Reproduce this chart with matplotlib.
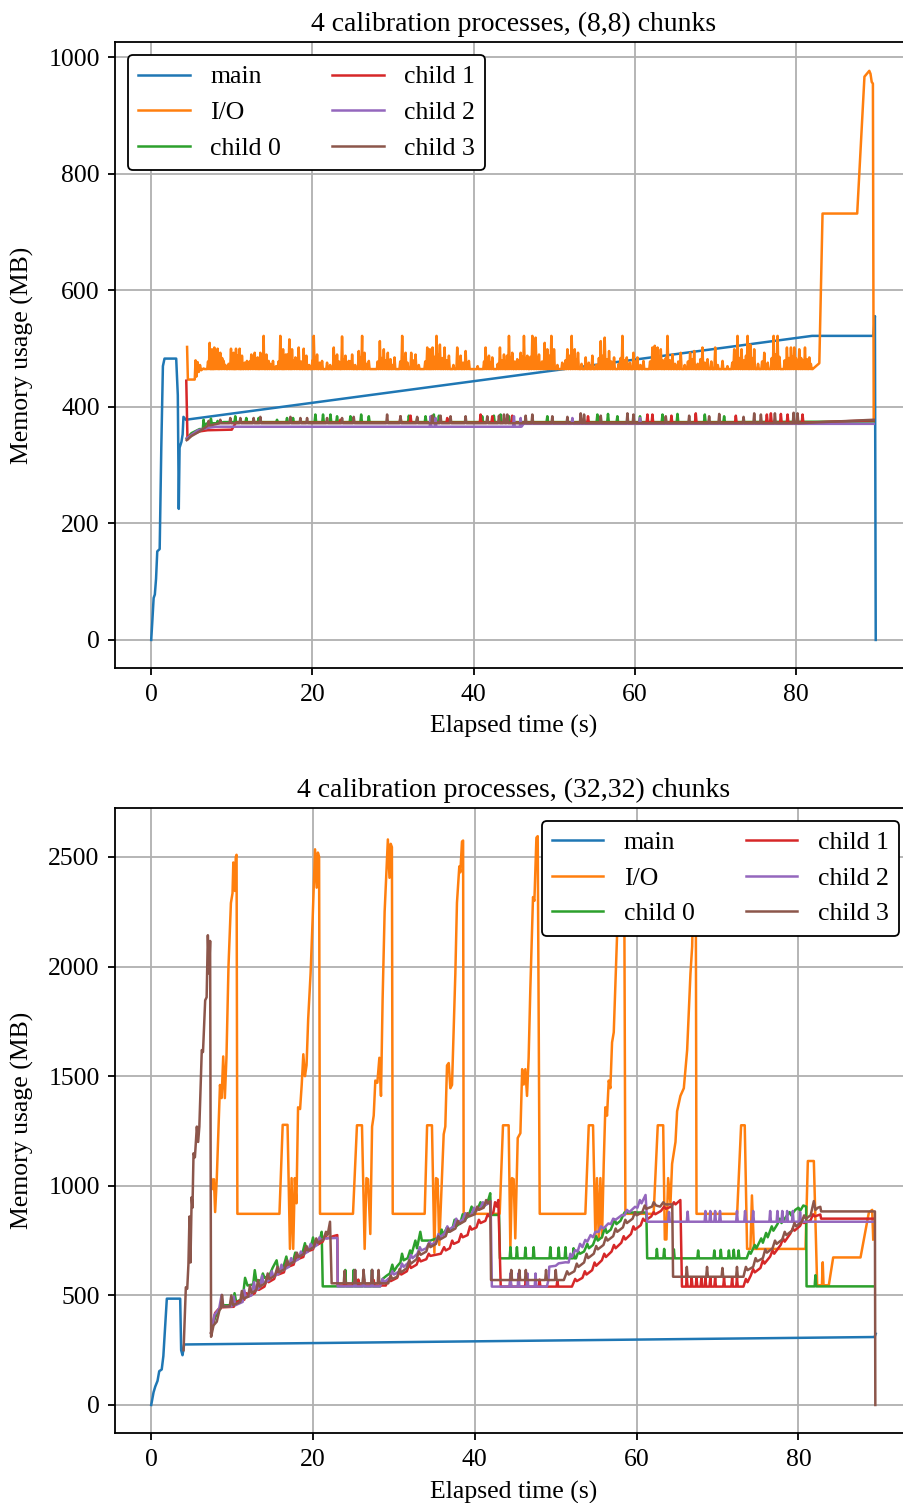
import numpy as np
import matplotlib
matplotlib.use("Agg")
import matplotlib.pyplot as plt

LABELS = ["main", "I/O", "child 0", "child 1", "child 2", "child 3"]

# ---------------- (8,8) chunks: (time s, memory MB) ----------------
main_8 = [(0.0, 0), (0.15, 35), (0.3, 72), (0.45, 78), (0.6, 105), (0.75, 152),
          (1.05, 156), (1.25, 330), (1.45, 470), (1.65, 483), (3.1, 483), (3.3, 420),
          (3.42, 225), (3.52, 330), (3.75, 340), (3.9, 353), (4.0, 383), (4.3, 378),
          (82.0, 522), (89.6, 522), (89.8, 556), (89.9, 0)]

io_8 = [(4.45, 503), (4.55, 447), (5.4, 447), (5.5, 480), (5.6, 452), (5.75, 477),
        (5.9, 460), (6.05, 472), (6.2, 463), (6.5, 466), (6.6, 465), (82.07, 465),
        (82.9, 475), (83.3, 732), (87.6, 732), (88.5, 967), (89.1, 977), (89.25, 972),
        (89.4, 958), (89.55, 955), (89.65, 376)]
io_8_spikes = [
    (7.25, 510), (7.54, 499), (7.83, 502), (8.24, 500), (8.57, 493), (8.99, 479),
    (9.9, 500), (10.23, 493), (10.52, 500), (10.97, 500), (11.26, 488), (11.88, 479),
    (12.42, 490), (12.84, 493), (13.21, 485), (13.54, 493), (13.95, 522), (14.29, 490),
    (14.57, 479), (15.11, 479), (16.02, 522), (16.36, 499), (16.69, 490), (17.14, 516),
    (17.47, 499), (17.89, 485), (18.3, 502), (18.92, 500), (19.25, 488), (20.17, 522),
    (20.58, 490), (21.2, 479), (21.82, 476), (22.65, 502), (23.06, 490), (23.68, 521),
    (24.1, 488), (24.51, 479), (24.93, 490), (25.75, 496), (26.17, 522), (26.46, 493),
    (27.0, 479), (28.37, 513), (28.86, 499), (29.36, 493), (29.69, 482), (30.19, 485),
    (31.14, 522), (31.56, 493), (32.26, 493), (32.8, 490), (34.25, 502), (34.58, 499),
    (34.91, 502), (35.4, 522), (35.82, 507), (36.4, 502), (36.94, 488), (37.97, 502),
    (38.39, 488), (39.01, 496), (39.42, 479), (41.49, 502), (41.91, 488), (42.32, 485),
    (43.27, 502), (43.77, 490), (44.39, 522), (44.8, 493), (45.42, 482), (45.84, 493),
    (46.25, 522), (46.67, 488), (47.29, 522), (47.7, 519), (48.12, 490), (48.82, 510),
    (49.15, 499), (49.65, 522), (49.98, 499), (51.64, 499), (52.17, 522), (52.55, 499),
    (52.96, 493), (53.91, 485), (54.74, 488), (55.78, 513), (56.27, 519), (56.81, 496),
    (57.43, 485), (58.47, 522), (59.01, 485), (59.84, 493), (60.33, 485), (61.08, 479),
    (62.19, 502), (62.48, 505), (62.82, 502), (63.23, 499), (64.06, 522), (64.68, 490),
    (65.71, 493), (66.87, 493), (67.37, 496), (68.4, 502), (69.03, 482), (69.98, 502),
    (70.89, 479), (72.34, 499), (72.75, 522), (73.25, 499), (74.0, 522), (74.33, 507),
    (74.82, 499), (76.07, 493), (77.23, 522), (77.72, 522), (78.88, 502), (79.38, 502),
    (79.79, 502), (80.41, 499), (81.12, 502), (81.66, 485)]
# smaller bumps that thicken the I/O band between the tall spikes
io_8_ripples = [
    (7.05, 478), (7.4, 485), (7.7, 488), (8.05, 482), (8.4, 486), (8.8, 484), (9.2, 472),
    (9.6, 474), (10.07, 485), (10.38, 482), (10.75, 488), (11.1, 484), (11.6, 476),
    (12.2, 478), (12.63, 482), (13.03, 480), (13.38, 476), (13.75, 484), (14.12, 482),
    (14.8, 474), (15.5, 470), (15.8, 478), (16.2, 488), (16.52, 484), (16.9, 490),
    (17.3, 486), (17.68, 480), (18.1, 484), (18.6, 478), (19.08, 484), (19.6, 472),
    (20.0, 480), (20.38, 484), (20.9, 476), (22.2, 472), (22.85, 486), (23.3, 478),
    (23.9, 482), (24.3, 476), (24.72, 478), (25.3, 472), (25.95, 484), (26.32, 486),
    (26.7, 474), (28.1, 478), (28.6, 484), (29.1, 480), (29.52, 476), (30.0, 472),
    (30.9, 478), (31.35, 484), (31.8, 476), (32.5, 480), (33.2, 472), (34.0, 478),
    (34.42, 488), (34.75, 484), (35.15, 486), (35.6, 490), (36.1, 484), (36.65, 480),
    (37.5, 472), (38.2, 478), (38.7, 476), (39.22, 474), (40.5, 470), (41.3, 478),
    (41.7, 484), (42.1, 476), (43.0, 474), (43.52, 480), (44.15, 488), (44.6, 484),
    (45.12, 478), (45.63, 480), (46.05, 486), (46.46, 484), (47.05, 486), (47.5, 490),
    (47.91, 484), (48.5, 478), (48.99, 486), (49.4, 488), (49.82, 486), (50.4, 472),
    (51.0, 476), (51.4, 480), (51.9, 488), (52.36, 484), (52.76, 482), (53.4, 474),
    (54.3, 476), (55.2, 472), (55.55, 484), (56.05, 488), (56.55, 482), (57.1, 478),
    (58.0, 474), (58.25, 484), (58.75, 480), (59.4, 476), (60.1, 478), (60.7, 472),
    (61.9, 478), (62.65, 484), (63.03, 486), (63.5, 480), (63.85, 484), (64.37, 480),
    (65.0, 474), (65.4, 478), (66.2, 472), (66.6, 478), (67.12, 482), (67.8, 474),
    (68.15, 482), (68.7, 476), (69.5, 478), (70.3, 472), (71.5, 470), (72.1, 476),
    (72.55, 486), (73.0, 484), (73.55, 480), (73.8, 488), (74.17, 490), (74.58, 484),
    (75.3, 474), (75.8, 478), (76.5, 476), (77.0, 484), (77.48, 490), (77.95, 486),
    (78.6, 480), (79.13, 484), (79.59, 486), (80.0, 484), (80.2, 480), (80.65, 484),
    (80.9, 480), (81.37, 482), (81.85, 474)]

child0_8 = [(4.4, 346), (5.0, 355), (6.0, 362), (6.6, 370), (7.0, 372), (9.0, 374), (89.65, 375)]
child0_8_spikes = [
    (6.5, 378), (7.41, 380), (8.24, 376), (10.43, 384), (11.8, 381), (13.33, 381),
    (15.61, 378), (16.85, 381), (17.6, 381), (20.37, 387), (21.32, 387), (22.24, 387),
    (23.06, 384), (24.72, 384), (26.05, 387), (27.0, 384), (31.97, 385), (33.0, 381),
    (34.04, 384), (35.07, 387), (35.7, 385), (41.07, 384), (42.52, 385), (43.35, 387),
    (44.39, 384), (49.15, 384), (55.36, 387), (56.68, 388), (57.84, 384), (60.65, 384),
    (63.44, 387), (65.3, 388), (68.69, 387), (71.09, 384)]

child1_8 = [(4.35, 445), (4.5, 344), (5.0, 352), (6.0, 358), (7.0, 360), (10.0, 361),
            (10.5, 373), (89.65, 377)]
child1_8_spikes = [
    (23.47, 378), (30.93, 384), (32.18, 385), (36.73, 381), (40.87, 387), (42.32, 384),
    (44.8, 385), (54.2, 384), (61.57, 387), (62.19, 387), (64.55, 385), (67.57, 389),
    (72.54, 385), (76.39, 387), (76.89, 389), (78.13, 388), (78.96, 387), (80.82, 387)]

child2_8 = [(4.4, 346), (5.0, 352), (5.8, 360), (7.0, 364), (8.0, 366), (46.0, 367),
            (46.2, 371), (89.65, 371)]
child2_8_spikes = [(34.66, 384), (35.28, 381), (45.01, 384), (45.84, 381), (52.26, 381),
                   (60.65, 381)]

child3_8 = [(4.4, 343), (5.0, 350), (6.0, 358), (7.0, 368), (8.5, 372), (89.65, 378)]
child3_8_spikes = [
    (7.12, 376), (8.57, 378), (9.81, 381), (11.06, 381), (12.71, 381), (13.54, 383),
    (17.27, 383), (18.51, 381), (19.34, 381), (21.82, 381), (23.68, 381), (25.13, 383),
    (29.27, 387), (30.93, 384), (33.0, 383), (34.87, 385), (35.9, 385), (37.14, 384),
    (39.01, 384), (41.7, 384), (43.15, 385), (43.77, 387), (44.18, 387), (46.46, 385),
    (47.29, 387), (49.77, 384), (51.64, 383), (53.29, 389), (53.71, 387), (55.78, 385),
    (59.09, 389), (59.84, 387), (63.85, 384), (66.75, 385), (69.23, 384), (70.48, 388),
    (73.5, 383), (74.82, 389), (75.65, 387), (77.39, 389), (79.71, 390), (80.2, 389)]

# ---------------- (32,32) chunks ----------------
main_32 = [(0.0, 0), (0.29, 58), (0.5, 84), (0.78, 110), (0.99, 154), (1.3, 162),
           (1.5, 223), (1.93, 485), (3.58, 485), (3.7, 250), (3.87, 227), (4.07, 276),
           (89.4, 310), (89.55, 325)]

io_32 = [
    (7.45, 1030), (7.6, 985), (7.75, 1030), (7.9, 880), (8.1, 1030), (8.3, 1245),
    (8.5, 1460), (8.7, 1400), (8.9, 1590), (9.1, 1400), (9.3, 1585), (9.55, 2000),
    (9.85, 2290), (10.05, 2335), (10.15, 2475), (10.35, 2345), (10.45, 2500),
    (10.55, 2510), (10.65, 872),
    (15.85, 872), (16.25, 1278), (16.85, 1278), (17.15, 712), (17.35, 1035),
    (17.55, 712), (17.75, 1035), (17.95, 920), (18.15, 1358), (18.4, 1350),
    (18.6, 1460), (18.8, 1600), (19.0, 1500), (19.2, 1550), (19.4, 1760),
    (19.7, 1970), (19.95, 2215), (20.25, 2535), (20.45, 2360), (20.6, 2520),
    (20.75, 2500), (20.86, 872),
    (24.94, 872), (25.43, 1276), (26.05, 1276), (26.38, 712), (26.6, 1035),
    (26.8, 1030), (27.08, 780), (27.3, 1270), (27.5, 1320), (27.7, 1480),
    (27.95, 1470), (28.2, 1584), (28.4, 1410), (28.6, 1850), (28.85, 2250),
    (29.05, 2420), (29.25, 2580), (29.45, 2405), (29.6, 2560), (29.75, 2545), (29.85, 872),
    (33.8, 872), (34.1, 1276), (34.7, 1276), (35.0, 694), (35.2, 1035), (35.4, 1030),
    (35.6, 730), (36.15, 1235), (36.35, 1270), (36.56, 1549), (36.77, 1560),
    (36.97, 1445), (37.18, 1460), (37.59, 1968), (37.79, 2291), (38.08, 2457),
    (38.21, 2430), (38.41, 2570), (38.55, 2575), (38.62, 872),
    (43.07, 872), (43.48, 1276), (44.18, 1276), (44.39, 712), (44.59, 1035),
    (44.8, 1030), (45.0, 760), (45.3, 1218), (45.63, 1240), (45.85, 1532),
    (46.04, 1462), (46.24, 1532), (46.45, 1410), (46.65, 1584), (46.86, 1900),
    (47.19, 2317), (47.36, 2300), (47.61, 2588), (47.77, 2595), (48.02, 872),
    (53.66, 872), (54.08, 1276), (54.61, 1276), (54.9, 764), (55.1, 1035),
    (55.31, 764), (55.52, 1035), (55.72, 764), (55.93, 1100), (56.13, 1358),
    (56.34, 1320), (56.55, 1480), (56.75, 1445), (56.96, 1654), (57.17, 1700),
    (57.58, 2143), (57.79, 2405), (58.2, 2580), (58.45, 2560), (58.61, 872),
    (62.1, 872), (62.61, 1276), (63.28, 1276), (63.48, 755), (63.68, 755),
    (63.89, 1035), (64.18, 921), (64.38, 1100), (64.8, 1200), (65.0, 1340),
    (65.41, 1410), (65.83, 1445), (66.24, 1619), (66.65, 1968), (66.86, 2091),
    (67.1, 2500), (67.3, 2480), (67.4, 872),
    (72.42, 872), (72.91, 1276), (73.36, 1276), (73.65, 712), (74.06, 712),
    (74.25, 956), (74.5, 712), (80.87, 712), (81.16, 1113), (81.9, 1113),
    (82.31, 546), (82.9, 546), (83.0, 651), (83.1, 546), (83.75, 546),
    (84.29, 673), (87.67, 673), (88.7, 878), (89.11, 890), (89.24, 755)]

child0_32 = [
    (7.4, 330), (7.9, 400), (8.6, 445), (8.9, 455), (10.1, 455), (10.3, 510), (10.5, 470),
    (11.3, 485), (11.6, 580), (11.9, 545), (12.6, 550), (12.8, 615), (13.0, 565),
    (13.6, 570), (13.8, 600), (14.0, 580), (14.6, 590), (15.0, 625), (15.5, 660),
    (15.7, 615), (16.3, 625), (16.7, 677), (16.9, 640), (17.5, 650), (17.8, 695),
    (18.0, 665), (18.6, 680), (19.0, 738), (19.2, 700), (19.7, 715), (20.0, 764),
    (20.2, 730), (20.8, 745), (21.07, 790), (21.2, 541),
    (28.3, 541), (28.6, 575), (29.1, 590), (29.5, 600), (29.8, 640), (30.0, 610),
    (30.4, 633), (30.8, 650), (31.0, 690), (31.2, 660), (31.7, 670), (32.0, 705),
    (32.2, 690), (32.65, 750), (32.85, 715), (33.26, 790), (33.45, 750), (34.5, 750),
    (35.7, 765), (35.9, 800), (36.1, 775), (36.56, 810), (36.75, 790), (37.2, 800),
    (37.5, 845), (37.7, 815), (38.2, 830), (38.5, 870), (38.7, 845), (39.2, 860),
    (39.6, 905), (39.8, 880), (40.3, 890), (40.7, 925), (40.9, 900), (41.4, 915),
    (41.7, 940), (41.9, 966), (42.0, 867), (43.0, 867), (43.1, 669),
    (52.5, 669), (52.8, 700), (53.0, 690), (53.5, 700), (53.9, 735), (54.1, 715),
    (54.6, 730), (55.0, 770), (55.2, 750), (55.7, 765), (56.1, 810), (56.3, 785),
    (56.8, 800), (57.3, 845), (57.5, 825), (58.0, 840), (58.5, 878), (61.2, 878),
    (61.3, 669),
    (73.6, 669), (73.9, 700), (74.1, 690), (74.6, 730), (74.8, 715), (75.4, 760),
    (75.6, 740), (76.0, 785), (76.2, 765), (76.7, 815), (76.9, 795), (77.4, 825),
    (77.7, 850), (77.9, 830), (78.5, 860), (78.9, 880), (79.1, 865), (79.6, 890),
    (80.0, 900), (80.2, 885), (80.6, 910), (80.95, 905), (81.0, 541), (89.35, 541)]
child0_32_spikes = [
    (23.99, 616), (25.02, 616), (26.25, 616), (27.28, 616), (44.4, 720), (45.2, 720),
    (46.25, 718), (47.27, 720), (49.33, 720), (50.36, 718), (51.2, 720), (52.2, 715),
    (62.5, 712), (63.4, 712), (64.6, 710), (67.6, 705), (69.6, 705), (70.4, 708),
    (71.4, 705), (72.0, 708), (72.6, 705), (82.1, 592)]

child1_32 = [
    (7.4, 330), (7.9, 420), (8.5, 445), (10.2, 448), (10.5, 470), (11.5, 480), (11.8, 510),
    (12.0, 495), (12.8, 510), (13.1, 540), (13.3, 525), (14.0, 540), (14.3, 575),
    (14.5, 560), (15.2, 575), (15.5, 610), (15.7, 595), (16.4, 605), (16.7, 645),
    (16.9, 630), (17.6, 640), (17.9, 680), (18.1, 665), (18.8, 675), (19.1, 715),
    (19.3, 700), (20.0, 710), (20.3, 745), (20.5, 730), (21.2, 745), (21.5, 775),
    (21.7, 760), (22.5, 770), (23.0, 775), (23.05, 545),
    (29.0, 545), (29.3, 575), (29.6, 565), (30.4, 580), (30.7, 610), (30.9, 595),
    (31.6, 610), (31.9, 645), (32.1, 625), (32.8, 640), (33.1, 670), (33.3, 655),
    (34.0, 665), (34.3, 690), (34.5, 680), (35.8, 690), (36.2, 720), (36.4, 705),
    (36.9, 715), (37.2, 750), (37.4, 735), (38.0, 745), (38.3, 780), (38.5, 765),
    (39.1, 775), (39.4, 815), (39.6, 800), (40.2, 810), (40.5, 845), (40.7, 830),
    (41.3, 840), (41.6, 870), (41.8, 860), (42.3, 880), (42.5, 925), (42.7, 905),
    (42.9, 935), (43.2, 540),
    (52.0, 540), (52.4, 575), (52.6, 565), (53.3, 580), (53.6, 610), (53.8, 595),
    (54.5, 615), (54.8, 650), (55.0, 635), (55.7, 660), (56.0, 690), (56.2, 675),
    (56.9, 700), (57.2, 730), (57.4, 715), (58.1, 740), (58.4, 770), (58.6, 755),
    (59.3, 780), (59.6, 815), (59.8, 800), (60.5, 820), (60.8, 850), (61.0, 840),
    (61.8, 860), (62.1, 880), (62.3, 870), (63.0, 885), (63.4, 905), (63.6, 895),
    (64.3, 905), (64.6, 925), (64.8, 915), (65.4, 935), (65.6, 540),
    (73.2, 540), (73.5, 575), (73.7, 560), (74.1, 590), (74.4, 620), (74.6, 605),
    (75.3, 625), (75.6, 660), (75.8, 645), (76.5, 677), (76.8, 705), (77.0, 690),
    (77.8, 730), (78.1, 760), (78.3, 745), (79.0, 782), (79.3, 805), (79.5, 795),
    (80.2, 817), (80.5, 840), (80.7, 830), (81.5, 843), (81.8, 870), (82.0, 860),
    (82.7, 869), (82.8, 850), (89.4, 850)]
child1_32_spikes = [
    (23.9, 575), (25.6, 572), (26.3, 575), (27.5, 570), (44.4, 570), (46.3, 570),
    (48.0, 572), (50.2, 570), (66.2, 580), (66.8, 580), (67.4, 580), (68.0, 580),
    (68.5, 580), (69.1, 580), (69.7, 580), (70.8, 580), (71.8, 580), (72.4, 580)]

child2_32 = [
    (7.4, 330), (7.8, 410), (8.4, 440), (8.7, 502), (8.9, 448), (10.0, 450), (10.2, 495),
    (10.4, 455), (11.3, 470), (11.5, 525), (11.7, 490), (12.4, 500), (12.7, 560),
    (12.9, 520), (13.5, 540), (13.7, 590), (13.9, 555), (14.6, 570), (14.9, 610),
    (15.1, 585), (15.8, 600), (16.1, 640), (16.3, 615), (17.0, 630), (17.3, 670),
    (17.5, 650), (18.2, 665), (18.5, 700), (18.7, 685), (19.4, 700), (19.7, 735),
    (19.9, 715), (20.5, 730), (20.8, 765), (21.0, 750), (21.5, 760), (23.0, 762),
    (23.05, 541),
    (28.3, 541), (28.6, 575), (28.8, 560), (29.5, 580), (29.8, 610), (30.0, 595),
    (30.7, 610), (31.0, 645), (31.2, 630), (31.8, 650), (32.1, 685), (32.3, 670),
    (32.9, 690), (33.2, 720), (33.4, 705), (34.0, 715), (34.4, 745), (34.6, 730),
    (35.2, 745), (35.5, 780), (35.7, 765), (36.3, 785), (36.6, 815), (36.8, 800),
    (37.4, 815), (37.7, 850), (37.9, 835), (38.5, 845), (38.8, 875), (39.0, 860),
    (39.6, 870), (39.9, 900), (40.1, 885), (40.7, 900), (41.0, 925), (41.2, 910),
    (41.7, 920), (41.95, 930), (42.1, 540),
    (48.9, 540), (49.1, 570), (49.2, 631), (50.0, 635), (50.35, 646), (51.2, 651),
    (51.6, 650), (51.8, 690), (52.0, 675), (52.4, 707), (52.7, 700), (53.0, 735),
    (53.3, 720), (53.65, 753), (53.9, 745), (54.3, 775), (54.6, 765), (54.9, 790),
    (55.3, 790), (55.6, 815), (55.9, 805), (56.5, 828), (56.8, 825), (57.1, 850),
    (57.4, 845), (58.2, 867), (58.5, 865), (58.8, 890), (59.1, 880), (59.8, 904),
    (60.1, 900), (60.4, 935), (60.6, 920), (61.1, 958), (61.3, 836), (89.4, 836)]
child2_32_spikes = [
    (25.2, 616), (26.25, 616), (27.3, 616), (44.4, 600), (45.4, 600), (46.5, 600),
    (47.5, 600), (64.0, 880), (66.3, 882), (68.5, 885), (69.1, 885), (69.7, 885),
    (70.3, 885), (72.4, 885), (73.4, 885), (74.4, 885), (76.5, 885), (77.4, 885),
    (78.0, 885), (78.6, 885), (79.3, 885), (80.2, 880)]

child3_32 = [
    (4.0, 250), (4.28, 537), (4.45, 530), (4.6, 642), (4.73, 860), (4.85, 650),
    (5.0, 948), (5.1, 900), (5.23, 1148), (5.4, 1130), (5.64, 1270), (5.8, 1200),
    (5.95, 1270), (6.25, 1619), (6.4, 1610), (6.67, 1846), (6.85, 1860), (7.0, 2143),
    (7.16, 1968), (7.28, 2117), (7.4, 311), (7.7, 363), (8.1, 380), (8.44, 433),
    (8.6, 440), (8.75, 502), (8.9, 448), (9.7, 450), (9.9, 500), (10.1, 455),
    (11.0, 470), (11.2, 520), (11.4, 485), (12.0, 495), (12.2, 545), (12.4, 510),
    (13.0, 525), (13.2, 570), (13.4, 540), (14.1, 555), (14.4, 600), (14.6, 575),
    (15.3, 590), (15.6, 630), (15.8, 605), (16.5, 620), (16.8, 660), (17.0, 640),
    (17.7, 655), (18.0, 695), (18.2, 675), (18.9, 690), (19.2, 725), (19.4, 705),
    (20.1, 720), (20.4, 760), (20.6, 740), (21.3, 755), (21.6, 790), (21.8, 775),
    (22.1, 836), (22.3, 555),
    (29.3, 555), (29.6, 590), (29.8, 575), (30.4, 585), (30.7, 620), (30.9, 605),
    (31.6, 625), (31.9, 660), (32.1, 645), (32.8, 665), (33.1, 700), (33.3, 685),
    (34.0, 700), (34.3, 735), (34.5, 720), (35.2, 735), (35.5, 770), (35.7, 755),
    (36.4, 770), (36.7, 805), (36.9, 790), (37.6, 805), (37.9, 840), (38.1, 825),
    (38.8, 840), (39.1, 875), (39.3, 860), (40.0, 870), (40.3, 905), (40.5, 890),
    (41.1, 900), (41.4, 935), (41.6, 920), (41.9, 930), (42.0, 570),
    (51.0, 570), (51.4, 610), (51.6, 595), (52.3, 610), (52.6, 645), (52.8, 630),
    (53.5, 650), (53.8, 690), (54.0, 670), (54.7, 690), (55.0, 725), (55.2, 710),
    (55.9, 730), (56.2, 765), (56.4, 750), (57.1, 770), (57.4, 805), (57.6, 790),
    (58.3, 810), (58.6, 845), (58.8, 830), (59.5, 850), (59.8, 880), (60.0, 865),
    (60.7, 880), (61.0, 910), (61.2, 895), (61.9, 905), (62.1, 925), (62.4, 910),
    (62.9, 905), (63.3, 925), (63.5, 915), (64.4, 915), (64.5, 585),
    (73.2, 585), (73.5, 630), (73.7, 615), (74.4, 630), (74.7, 670), (74.9, 655),
    (75.6, 670), (75.9, 710), (76.1, 695), (76.8, 715), (77.1, 750), (77.3, 735),
    (78.0, 755), (78.3, 790), (78.5, 775), (79.2, 795), (79.5, 830), (79.7, 815),
    (80.4, 835), (80.7, 865), (80.9, 850), (81.5, 865), (81.9, 930), (82.1, 890),
    (82.4, 900), (82.7, 904), (82.8, 883), (89.45, 883), (89.5, 0)]
child3_32_spikes = [
    (23.9, 612), (25.2, 616), (26.25, 616), (27.3, 616), (28.1, 616), (44.5, 616),
    (45.5, 616), (46.3, 616), (48.8, 616), (50.0, 616), (66.2, 630), (68.7, 630),
    (70.6, 625), (72.4, 630)]


def build(skeleton, spikes=(), half=0.1):
    """Merge a skeleton trace with short spikes sitting on its flat parts."""
    pts = list(skeleton)
    sk_t = [p[0] for p in skeleton]
    for ts, peak in spikes:
        i = max(np.searchsorted(sk_t, ts, side="right") - 1, 0)
        base = skeleton[i][1]
        pts += [(ts - half, base), (ts, peak), (ts + half, base)]
    pts.sort()
    t, mb = zip(*pts)
    return np.array(t), np.array(mb)


plt.rcParams["font.family"] = "serif"
plt.rcParams["font.serif"] = ["Liberation Serif", "DejaVu Serif"]
plt.rcParams["font.size"] = 18.5
plt.rcParams["axes.titlesize"] = 20
plt.rcParams["axes.titlepad"] = 8
plt.rcParams["axes.labelpad"] = 7
plt.rcParams["axes.linewidth"] = 1.3
plt.rcParams["xtick.major.size"] = 5
plt.rcParams["ytick.major.size"] = 5
plt.rcParams["xtick.major.width"] = 1.3
plt.rcParams["ytick.major.width"] = 1.3
plt.rcParams["xtick.major.pad"] = 6
plt.rcParams["ytick.major.pad"] = 6
plt.rcParams["grid.linewidth"] = 1.3

fig = plt.figure(figsize=(9.04, 15.03), dpi=100)
ax_top = fig.add_axes([0.1272, 0.5553, 0.8816, 0.4165])
ax_bot = fig.add_axes([0.1272, 0.0463, 0.8816, 0.4163])

panels = [
    (ax_top, "4 calibration processes, (8,8) chunks", "upper left",
     [(main_8, ()), (io_8, io_8_spikes + io_8_ripples), (child0_8, child0_8_spikes),
      (child1_8, child1_8_spikes), (child2_8, child2_8_spikes),
      (child3_8, child3_8_spikes)]),
    (ax_bot, "4 calibration processes, (32,32) chunks", "upper right",
     [(main_32, ()), (io_32, ()), (child0_32, child0_32_spikes),
      (child1_32, child1_32_spikes), (child2_32, child2_32_spikes),
      (child3_32, child3_32_spikes)]),
]

for ax, title, loc, series in panels:
    for (skel, spk), label in zip(series, LABELS):
        t, mb = build(skel, spk)
        ax.plot(t, mb, lw=1.8, label=label)
    ax.set_title(title)
    ax.set_xlabel("Elapsed time (s)")
    ax.set_ylabel("Memory usage (MB)", labelpad=10)
    ax.grid(True)
    ax.set_axisbelow(True)
    leg = ax.legend(loc=loc, ncol=2, framealpha=1)
    leg.get_frame().set_edgecolor("black")
    leg.get_frame().set_linewidth(1.3)

fig.savefig("out.png", dpi=100)
